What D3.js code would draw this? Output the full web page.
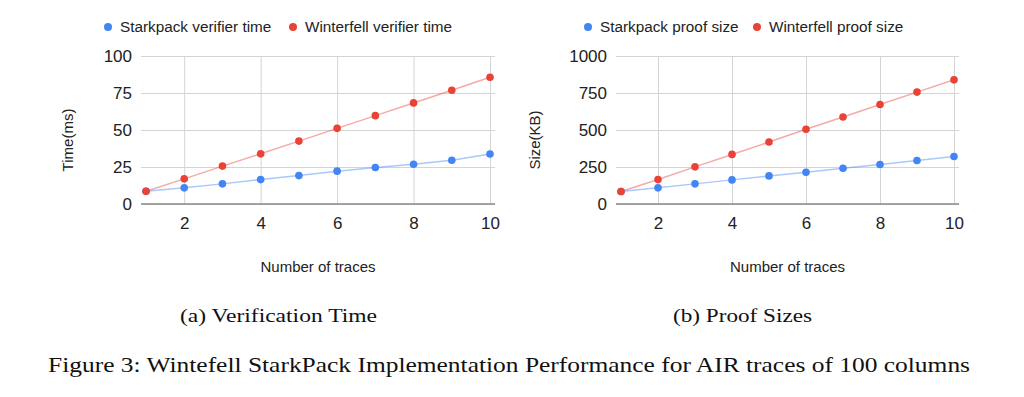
<!DOCTYPE html>
<html>
  <head>
    <meta charset="utf-8">
    <title>StarkPack performance</title>
    <script src="https://d3js.org/d3.v7.min.js"></script>
    <style>
      body { margin: 0; background: #fff; }
      .sans { font-family: "Liberation Sans", Arial, sans-serif; fill: #222; }
      .serif { font-family: "Liberation Serif", "DejaVu Serif", serif; fill: #111; }
    </style>
  </head>
  <body>
    <div id="chart"></div>
    <script>
    // data
    const traces = [1, 2, 3, 4, 5, 6, 7, 8, 9, 10];
    const starkTime = [8.6, 10.9, 13.6, 16.5, 19.2, 22.2, 24.7, 26.9, 29.6, 33.8];
    const winterTime = [8.6, 17.0, 25.6, 33.9, 42.5, 51.1, 59.7, 68.3, 76.9, 85.6];
    const starkSize = [84, 109, 136, 163, 190, 215, 242, 267, 294, 321];
    const winterSize = [84, 165, 251, 335, 419, 505, 588, 672, 756, 839];
    const xTicks = [2, 4, 6, 8, 10];
    const timeTicks = [0, 25, 50, 75, 100];
    const sizeTicks = [0, 250, 500, 750, 1000];

    const blue = "#4285f4", red = "#ea4335";

    const svg = d3.select("#chart")
      .append("svg")
      .attr("width", 1024)
      .attr("height", 397);

    function drawPanel(p) {
      const top = 56, bottom = 204;
      const x = d3.scaleLinear().domain([1, 10]).range([p.left + 5, p.right - 5]);
      const y = d3.scaleLinear().domain([0, p.max]).range([bottom, top]);
      const g = svg.append("g");

      // horizontal grid + y labels
      const yAxis = g.append("g")
        .attr("transform", "translate(" + p.left + ",0)")
        .call(d3.axisLeft(y).tickValues(p.yTicks).tickFormat(d3.format("d"))
          .tickSize(-(p.right - p.left)).tickPadding(9));
      yAxis.select(".domain").remove();
      yAxis.selectAll("line").attr("stroke", "#d4d4d4");
      yAxis.selectAll("text").attr("class", "sans").style("font-size", "17px");

      // vertical grid + x labels
      const xAxis = g.append("g")
        .attr("transform", "translate(0," + bottom + ")")
        .call(d3.axisBottom(x).tickValues(xTicks).tickSize(-(bottom - top)).tickPadding(13));
      xAxis.select(".domain").remove();
      xAxis.selectAll("line").attr("stroke", "#d4d4d4");
      xAxis.selectAll("text").attr("class", "sans").style("font-size", "17px");

      // baseline
      g.append("line")
        .attr("x1", p.left).attr("x2", p.right)
        .attr("y1", y(0)).attr("y2", y(0))
        .attr("stroke", "#8a8a8a").attr("stroke-width", 1.6);

      const line = d3.line().x((d, i) => x(traces[i])).y(d => y(d));
      p.series.forEach(s => {
        g.append("path")
          .datum(s.values)
          .attr("d", line)
          .attr("fill", "none")
          .attr("stroke", s.color)
          .attr("stroke-opacity", 0.45)
          .attr("stroke-width", 1.5);
      });
      p.series.forEach(s => {
        g.selectAll(null)
          .data(s.values)
          .enter()
          .append("circle")
          .attr("cx", (d, i) => x(traces[i]))
          .attr("cy", d => y(d))
          .attr("r", 3.8)
          .attr("fill", s.color);
      });

      // legend
      p.series.forEach(s => {
        g.append("circle").attr("cx", s.legendX).attr("cy", 27).attr("r", 4).attr("fill", s.color);
        g.append("text").attr("class", "sans")
          .attr("x", s.legendX + 12).attr("y", 32)
          .style("font-size", "15.3px")
          .text(s.name);
      });

      // axis titles
      g.append("text").attr("class", "sans")
        .attr("transform", "translate(" + p.titleX + ",140) rotate(-90)")
        .attr("text-anchor", "middle").attr("dy", "0.35em")
        .style("font-size", "15px")
        .text(p.yTitle);
      g.append("text").attr("class", "sans")
        .attr("x", (p.left + p.right) / 2).attr("y", 272)
        .attr("text-anchor", "middle")
        .style("font-size", "15px")
        .text("Number of traces");

      // sub caption
      g.append("text").attr("class", "serif")
        .attr("x", p.capX).attr("y", 322)
        .attr("text-anchor", "middle")
        .attr("textLength", p.capW).attr("lengthAdjust", "spacingAndGlyphs")
        .style("font-size", "18px")
        .text(p.caption);
    }

    drawPanel({
      left: 141, right: 495, max: 100, yTicks: timeTicks, titleX: 68,
      yTitle: "Time(ms)", caption: "(a) Verification Time", capX: 278.5, capW: 197,
      series: [
        {name: "Starkpack verifier time", values: starkTime, color: blue, legendX: 108},
        {name: "Winterfell verifier time", values: winterTime, color: red, legendX: 293}
      ]
    });
    drawPanel({
      left: 616, right: 959, max: 1000, yTicks: sizeTicks, titleX: 535,
      yTitle: "Size(KB)", caption: "(b) Proof Sizes", capX: 742.5, capW: 139,
      series: [
        {name: "Starkpack proof size", values: starkSize, color: blue, legendX: 588},
        {name: "Winterfell proof size", values: winterSize, color: red, legendX: 757}
      ]
    });

    svg.append("text").attr("class", "serif")
      .attr("x", 48).attr("y", 372)
      .attr("textLength", 922).attr("lengthAdjust", "spacingAndGlyphs")
      .style("font-size", "21px")
      .text("Figure 3: Wintefell StarkPack Implementation Performance for AIR traces of 100 columns");
    </script>
  </body>
</html>
